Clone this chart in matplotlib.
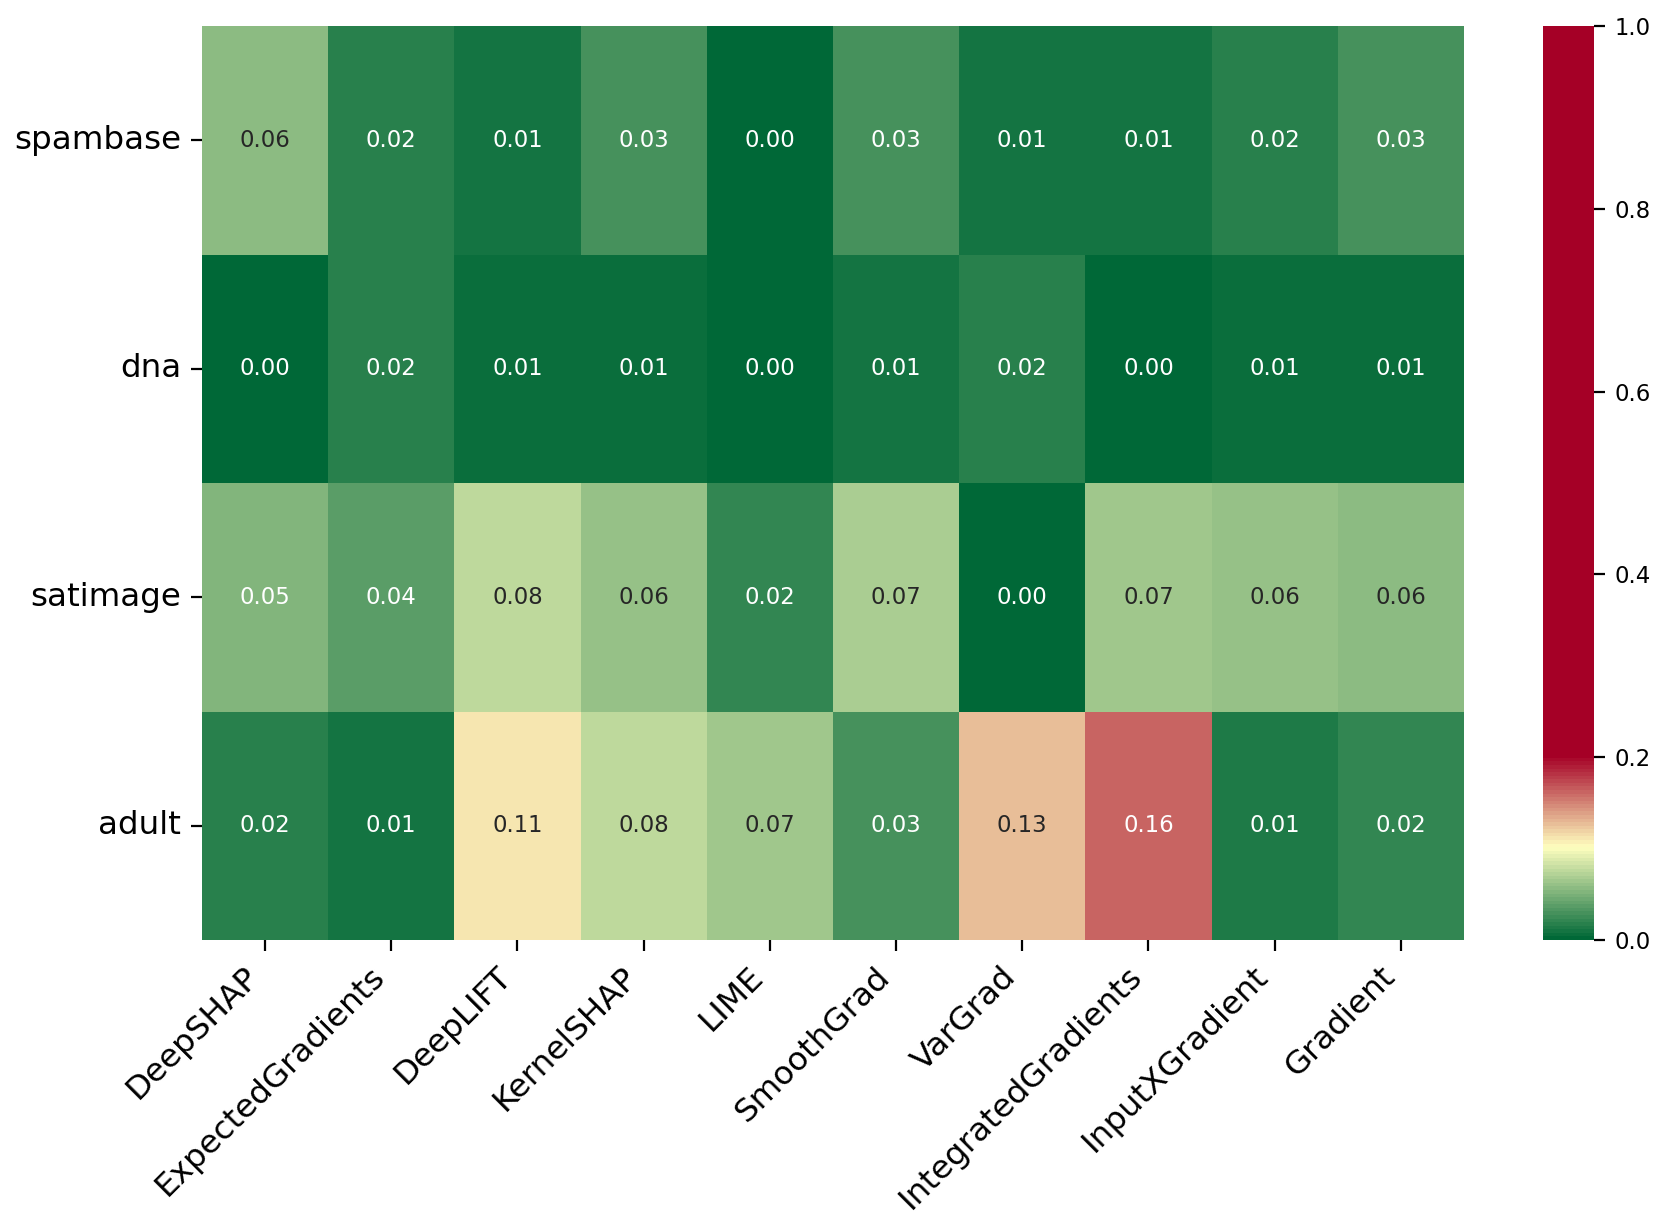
import matplotlib
matplotlib.use("Agg")
import matplotlib.pyplot as plt
import numpy as np
import seaborn as sns
from matplotlib.colors import LinearSegmentedColormap

datasets = ["spambase", "dna", "satimage", "adult"]
methods = ["DeepSHAP", "ExpectedGradients", "DeepLIFT", "KernelSHAP", "LIME",
           "SmoothGrad", "VarGrad", "IntegratedGradients", "InputXGradient", "Gradient"]

spambase = [0.055, 0.016, 0.009, 0.029, 0.000, 0.029, 0.009, 0.009, 0.016, 0.029]
dna = [0.000, 0.016, 0.006, 0.006, 0.001, 0.008, 0.017, 0.000, 0.006, 0.005]
satimage = [0.052, 0.037, 0.076, 0.062, 0.020, 0.070, 0.000, 0.066, 0.062, 0.058]
adult = [0.017, 0.009, 0.1106, 0.076, 0.066, 0.028, 0.126, 0.162, 0.012, 0.023]

values = np.array([spambase, dna, satimage, adult])

# green -> pale yellow -> red, saturating at 0.2
cmap = LinearSegmentedColormap.from_list(
    "gyr", [(0.0, "#006837"), (0.1, "#ffffbf"), (0.2, "#a50026"), (1.0, "#a50026")])

fig = plt.figure(figsize=(16.61 / 2, 12.32 / 2), dpi=200)
ax = fig.add_axes([0.1216, 0.2370, 0.7598, 0.7419])
cax = fig.add_axes([0.929, 0.2370, 0.0307, 0.7419])

sns.heatmap(values, ax=ax, cbar_ax=cax, cmap=cmap, vmin=0, vmax=1,
            annot=True, fmt=".2f", annot_kws={"fontsize": 8.2},
            xticklabels=methods, yticklabels=datasets)

ax.set_xticklabels(methods, rotation=45, ha="right", fontsize=11.7)
ax.set_yticklabels(datasets, rotation=0, fontsize=11.7)
ax.tick_params(axis="both", length=4, width=0.8)

cax.set_yticks([0.0, 0.2, 0.4, 0.6, 0.8, 1.0])
cax.tick_params(labelsize=8.2, length=4, width=0.8)

fig.savefig("out.png", dpi=200)
